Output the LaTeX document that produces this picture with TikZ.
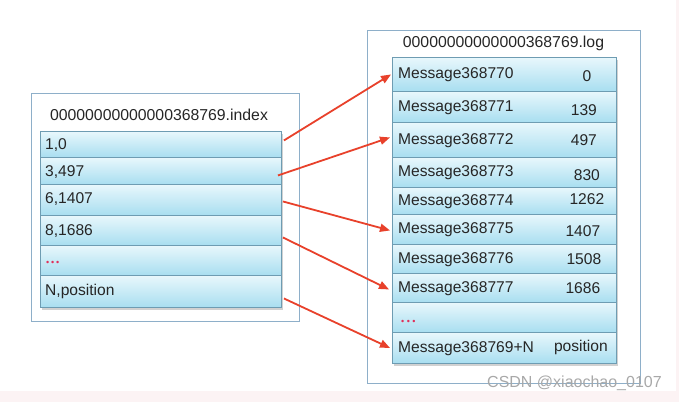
\documentclass[tikz,border=0pt]{standalone}
\usepackage{fontspec}
\setmainfont{Liberation Sans}
\usetikzlibrary{arrows.meta,shadings}
\definecolor{rowtop}{HTML}{E8F7FC}
\definecolor{rowbot}{HTML}{A8DEF0}
\definecolor{rowline}{HTML}{6E9CB2}
\definecolor{boxline}{HTML}{8EAFC9}
\definecolor{txt}{HTML}{262626}
\definecolor{arrowred}{HTML}{E8412B}
\definecolor{dotred}{HTML}{E0305A}
\definecolor{pinkbg}{HTML}{FCF3F4}
\definecolor{wm}{HTML}{A8A8A8}
\tikzset{
  outerbox/.style={draw=boxline, line width=1.4pt, fill=white},
  rowbox/.style={draw=rowline, line width=0.9pt, top color=rowtop, bottom color=rowbot, inner sep=0pt},
  lbl/.style={text=txt, font=\fontsize{15.6}{18}\selectfont, inner sep=0pt},
  ttl/.style={text=txt, font=\fontsize{15.8}{18}\selectfont, inner sep=0pt},
  dots/.style={text=dotred, font=\fontsize{9}{10}\selectfont, inner sep=0pt},
  link/.style={draw=arrowred, line width=1.8pt, -{Triangle[length=10pt,width=8pt]}},
  shadowbox/.style={fill=black!18, draw=none},
}
\begin{document}
\begin{tikzpicture}[x=1pt,y=-1pt]
\useasboundingbox (0,0) rectangle (679,402);
\fill[pinkbg] (0,391) rectangle (679,402);
\fill[pinkbg] (676,0) rectangle (679,402);
% outer boxes
\node[outerbox, minimum width=268pt, minimum height=228pt, anchor=north west] (leftbox) at (31,93) {};
\node[outerbox, minimum width=273pt, minimum height=353pt, anchor=north west] (rightbox) at (367,30) {};
\node[ttl] (lefttitle) at (159,115) {00000000000000368769.index};
\node[ttl] (righttitle) at (503.5,43.5) {00000000000000368769.log};
% shadows
\fill[shadowbox] (42,134) rectangle (283,310);
\fill[shadowbox] (394,60) rectangle (618,366);
% left rows
\foreach \n/\yt/\yb in {L1/131/157, L2/157/184, L3/184/215, L4/215/245, L5/245/275, L6/275/307}{
  \node[rowbox, minimum width=241pt, minimum height={\yb-\yt}, anchor=north west] (\n) at (40,\yt) {};
}
% right rows
\foreach \n/\yt/\yb in {R1/57/91, R2/91/122, R3/122/157, R4/157/187, R5/187/214, R6/214/244, R7/244/273, R8/273/302, R9/302/332, R10/332/363}{
  \node[rowbox, minimum width=224pt, minimum height={\yb-\yt}, anchor=north west] (\n) at (392,\yt) {};
}
% left texts
\node[lbl, anchor=west] (t1) at ([xshift=5pt,yshift=-1pt]L1.west) {1,0};
\node[lbl, anchor=west] (t2) at ([xshift=5pt,yshift=-1pt]L2.west) {3,497};
\node[lbl, anchor=west] (t3) at ([xshift=5pt,yshift=1pt]L3.west) {6,1407};
\node[lbl, anchor=west] (t4) at ([xshift=5pt,yshift=-1pt]L4.west) {8,1686};
\node[dots, anchor=west] (t5) at ([xshift=6pt,yshift=-3pt]L5.west) {•\hspace{1.8pt}•\hspace{1.8pt}•};
\node[lbl, anchor=west] (t6) at ([xshift=5pt,yshift=0pt]L6.west) {N,position};
% right texts
\foreach \n/\m/\v/\dx/\dy in {R1/Message368770/0/-30/-2, R2/Message368771/139/-33/-3, R3/Message368772/497/-33/0, R4/Message368773/830/-30/-3, R5/Message368774/1262/-30/1.5, R6/Message368775/1407/-34/-2, R7/Message368776/1508/-33/0, R8/Message368777/1686/-34/0}{
  \node[lbl, anchor=west] (m\n) at ([xshift=6pt,yshift=-0.5pt]\n.west) {\m};
  \node[lbl] (v\n) at ([xshift=\dx pt, yshift=\dy pt]\n.east) {\v};
}
\node[dots, anchor=west] (mR9) at ([xshift=9pt,yshift=-5pt]R9.west) {•\hspace{2.4pt}•\hspace{2.4pt}•};
\node[lbl, anchor=west] (mR10) at ([xshift=6pt,yshift=-0.5pt]R10.west) {Message368769+N};
\node[lbl] (vR10) at ([xshift=-36pt,yshift=0pt]R10.east) {position};
% arrows
\draw[link] ([shift={(2,-4)}]L1.east) -- ([shift={(-1,0)}]R1.west);
\draw[link] ([shift={(-4,4.5)}]L2.east) -- ([shift={(-2,-2.5)}]R3.west);
\draw[link] ([shift={(1,1.5)}]L3.east) -- ([shift={(-2,1)}]R6.west);
\draw[link] ([shift={(1,7)}]L4.east) -- ([shift={(-3,1.5)}]R8.west);
\draw[link] ([shift={(2,7)}]L6.east) -- ([shift={(-2,0)}]R10.west);
% watermark
\node[text=wm, font=\fontsize{16}{18}\selectfont, anchor=west, inner sep=0pt] (watermark) at (487,383) {CSDN @xiaochao\_0107};
\end{tikzpicture}
\end{document}
